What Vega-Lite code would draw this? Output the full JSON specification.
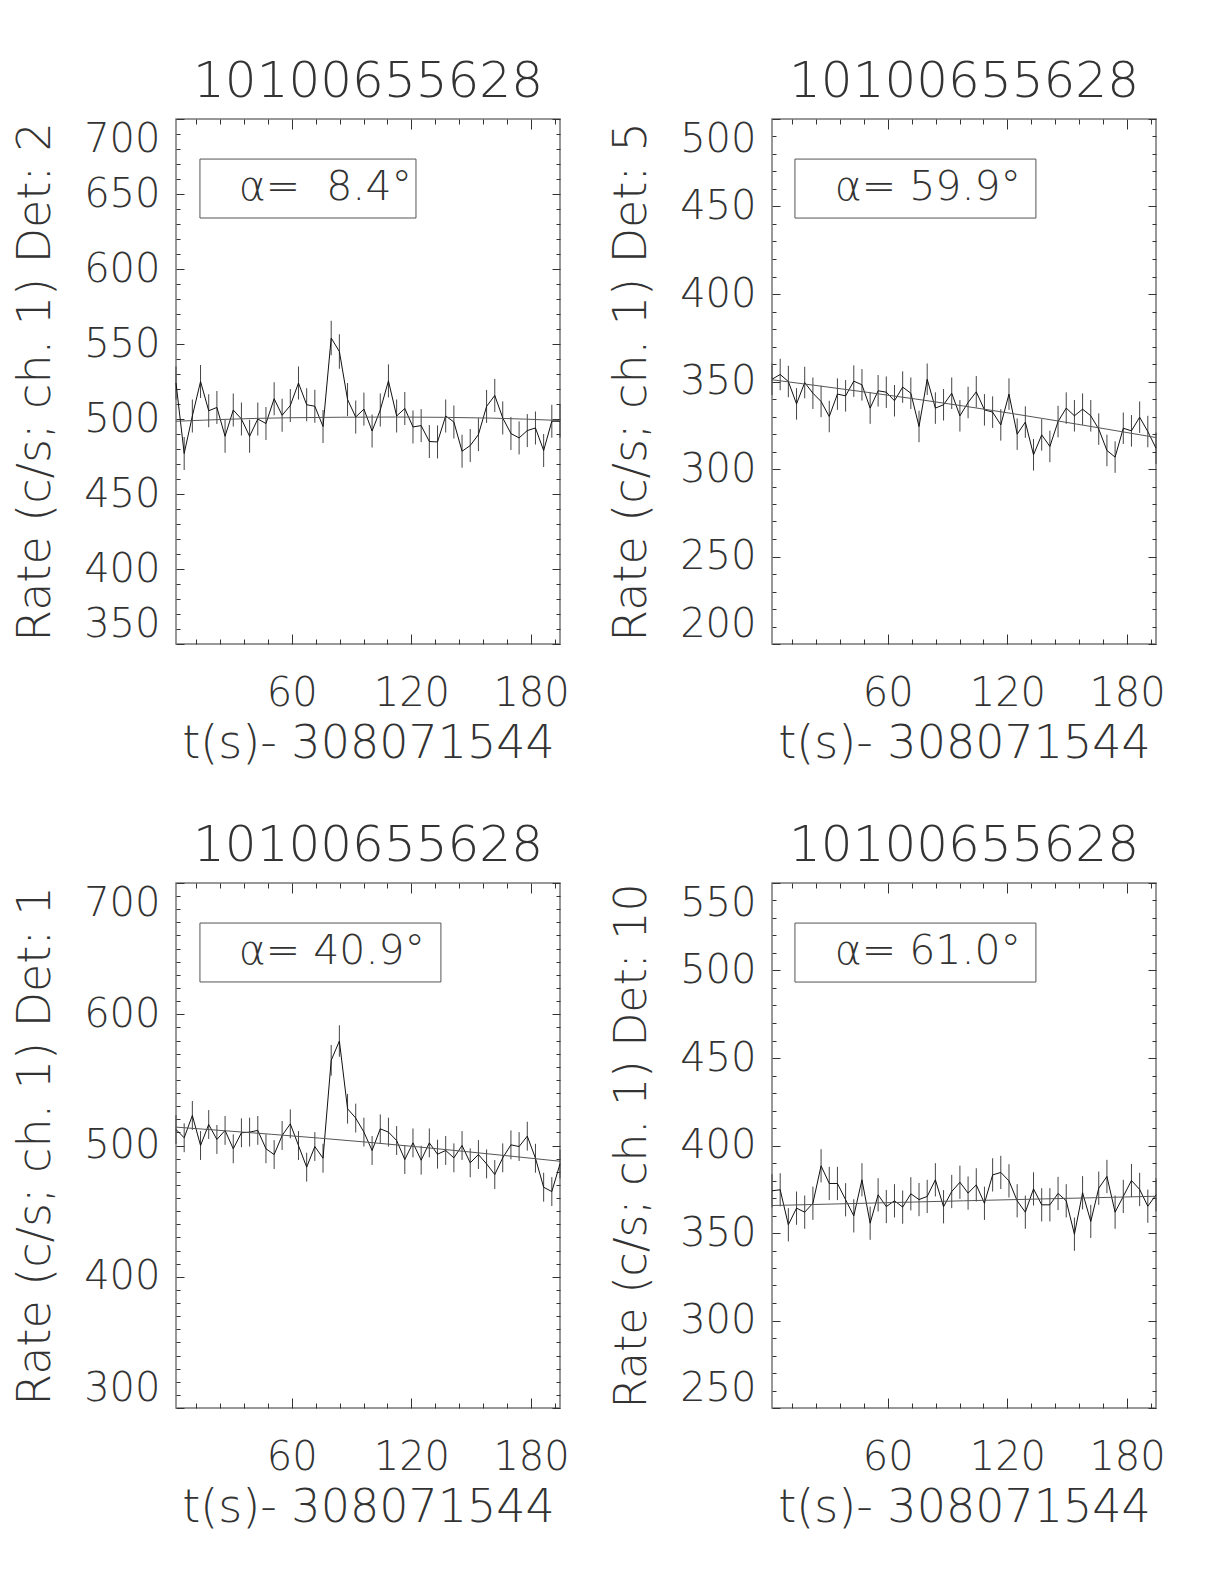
{
"$schema": "https://vega.github.io/schema/vega-lite/v6.json",
"background": "white",
"padding": {"left": 11, "top": 55, "right": 5, "bottom": 5},
"config": {
 "view": {"stroke": "#777", "strokeWidth": 1.5},
 "font": "DejaVu Sans",
 "title": {"font": "DejaVu Sans", "fontSize": 50, "fontWeight": 200, "color": "#333", "offset": 12, "anchor": "middle", "frame": "group"},
 "axis": {"domain": false, "grid": false, "tickColor": "#333", "tickWidth": 1, "labelFont": "DejaVu Sans", "labelFontSize": 40, "labelFontWeight": 200, "labelColor": "#333", "labelOverlap": false, "titleFont": "DejaVu Sans", "titleFontSize": 46, "titleFontWeight": 200, "titleColor": "#333"}
},
"datasets": {
 "p1": [
  {"t":2.0,"r":524,"lo":513,"hi":535},{"t":6.1,"r":477,"lo":466,"hi":488},{"t":10.2,"r":502,"lo":491,"hi":513},{"t":14.3,"r":525,"lo":514,"hi":536},
  {"t":18.4,"r":505.5,"lo":494.5,"hi":516.5},{"t":22.5,"r":507.7,"lo":496.7,"hi":518.7},{"t":26.6,"r":488.5,"lo":477.5,"hi":499.5},{"t":30.7,"r":506,"lo":495,"hi":517},
  {"t":34.8,"r":500,"lo":489,"hi":511},{"t":38.9,"r":488.5,"lo":477.5,"hi":499.5},{"t":43.0,"r":500,"lo":489,"hi":511},{"t":47.1,"r":497,"lo":486,"hi":508},
  {"t":51.2,"r":513.5,"lo":502.5,"hi":524.5},{"t":55.2,"r":502.5,"lo":491.5,"hi":513.5},{"t":59.3,"r":509,"lo":498,"hi":520},{"t":63.4,"r":524,"lo":513,"hi":535},
  {"t":67.5,"r":509.5,"lo":498.5,"hi":520.5},{"t":71.6,"r":508.5,"lo":497.5,"hi":519.5},{"t":75.7,"r":495,"lo":484,"hi":506},{"t":79.8,"r":554,"lo":542.5,"hi":565.5},
  {"t":83.9,"r":545,"lo":533.5,"hi":556.5},{"t":88.0,"r":513,"lo":502,"hi":524},{"t":92.1,"r":501.3,"lo":490.3,"hi":512.3},{"t":96.2,"r":506.6,"lo":495.6,"hi":517.6},
  {"t":100.3,"r":492,"lo":481,"hi":503},{"t":104.4,"r":506,"lo":495,"hi":517},{"t":108.5,"r":525.4,"lo":514.4,"hi":536.4},{"t":112.6,"r":502,"lo":491,"hi":513},
  {"t":116.7,"r":507,"lo":496,"hi":518},{"t":120.8,"r":494.7,"lo":483.7,"hi":505.7},{"t":124.9,"r":495.6,"lo":484.6,"hi":506.6},{"t":129.0,"r":485,"lo":474,"hi":496},
  {"t":133.1,"r":484.7,"lo":473.7,"hi":495.7},{"t":137.2,"r":502,"lo":491,"hi":513},{"t":141.3,"r":498,"lo":487,"hi":509},{"t":145.4,"r":478.5,"lo":467.5,"hi":489.5},
  {"t":149.5,"r":482.3,"lo":471.3,"hi":493.3},{"t":153.6,"r":489.6,"lo":478.6,"hi":500.6},{"t":157.7,"r":508.4,"lo":497.4,"hi":519.4},{"t":161.8,"r":515.7,"lo":504.7,"hi":526.7},
  {"t":165.8,"r":500.7,"lo":489.7,"hi":511.7},{"t":169.9,"r":490.3,"lo":479.3,"hi":501.3},{"t":174.0,"r":487.4,"lo":476.4,"hi":498.4},{"t":178.1,"r":492.3,"lo":481.3,"hi":503.3},
  {"t":182.2,"r":494,"lo":483,"hi":505},{"t":186.3,"r":479,"lo":468,"hi":490},{"t":190.4,"r":498.5,"lo":487.5,"hi":509.5},{"t":194.5,"r":498.5,"lo":487.5,"hi":509.5}
 ],
 "p2": [
  {"t":2.0,"r":351.3,"lo":342.3,"hi":360.3},{"t":6.1,"r":354,"lo":345,"hi":363},{"t":10.2,"r":350,"lo":341,"hi":359},{"t":14.3,"r":337.2,"lo":328.2,"hi":346.2},
  {"t":18.4,"r":349.4,"lo":340.4,"hi":358.4},{"t":22.5,"r":343.3,"lo":334.3,"hi":352.3},{"t":26.6,"r":338.6,"lo":329.6,"hi":347.6},{"t":30.7,"r":330,"lo":321,"hi":339},
  {"t":34.8,"r":342.8,"lo":333.8,"hi":351.8},{"t":38.9,"r":341.8,"lo":332.8,"hi":350.8},{"t":43.0,"r":350.2,"lo":341.2,"hi":359.2},{"t":47.1,"r":348.1,"lo":339.1,"hi":357.1},
  {"t":51.2,"r":334.8,"lo":325.8,"hi":343.8},{"t":55.2,"r":344.7,"lo":335.7,"hi":353.7},{"t":59.3,"r":343.9,"lo":334.9,"hi":352.9},{"t":63.4,"r":339,"lo":330,"hi":348},
  {"t":67.5,"r":346.8,"lo":337.8,"hi":355.8},{"t":71.6,"r":343.3,"lo":334.3,"hi":352.3},{"t":75.7,"r":324.3,"lo":315.3,"hi":333.3},{"t":79.8,"r":351.3,"lo":342.3,"hi":360.3},
  {"t":83.9,"r":334.8,"lo":325.8,"hi":343.8},{"t":88.0,"r":336.7,"lo":327.7,"hi":345.7},{"t":92.1,"r":343.3,"lo":334.3,"hi":352.3},{"t":96.2,"r":330.4,"lo":321.4,"hi":339.4},
  {"t":100.3,"r":338,"lo":329,"hi":347},{"t":104.4,"r":344.1,"lo":335.1,"hi":353.1},{"t":108.5,"r":333.8,"lo":324.8,"hi":342.8},{"t":112.6,"r":332.5,"lo":323.5,"hi":341.5},
  {"t":116.7,"r":325.2,"lo":316.2,"hi":334.2},{"t":120.8,"r":342.8,"lo":333.8,"hi":351.8},{"t":124.9,"r":319.9,"lo":310.9,"hi":328.9},{"t":129.0,"r":326.8,"lo":317.8,"hi":335.8},
  {"t":133.1,"r":308.1,"lo":299.1,"hi":317.1},{"t":137.2,"r":319.5,"lo":310.5,"hi":328.5},{"t":141.3,"r":312.9,"lo":303.9,"hi":321.9},{"t":145.4,"r":327.1,"lo":318.1,"hi":336.1},
  {"t":149.5,"r":334.8,"lo":325.8,"hi":343.8},{"t":153.6,"r":330.4,"lo":321.4,"hi":339.4},{"t":157.7,"r":334.2,"lo":325.2,"hi":343.2},{"t":161.8,"r":330.4,"lo":321.4,"hi":339.4},
  {"t":165.8,"r":322.8,"lo":313.8,"hi":331.8},{"t":169.9,"r":310.6,"lo":301.6,"hi":319.6},{"t":174.0,"r":306.8,"lo":297.8,"hi":315.8},{"t":178.1,"r":323.3,"lo":314.3,"hi":332.3},
  {"t":182.2,"r":321.8,"lo":312.8,"hi":330.8},{"t":186.3,"r":329.6,"lo":320.6,"hi":338.6},{"t":190.4,"r":321.4,"lo":312.4,"hi":330.4},{"t":194.5,"r":311.9,"lo":302.9,"hi":320.9}
 ],
 "p3": [
  {"t":2.0,"r":512.2,"lo":501.2,"hi":523.2},{"t":6.1,"r":505.9,"lo":494.9,"hi":516.9},{"t":10.2,"r":522.9,"lo":511.9,"hi":533.9},{"t":14.3,"r":500,"lo":489,"hi":511},
  {"t":18.4,"r":516,"lo":505,"hi":527},{"t":22.5,"r":504.6,"lo":493.6,"hi":515.6},{"t":26.6,"r":511.5,"lo":500.5,"hi":522.5},{"t":30.7,"r":497.5,"lo":486.5,"hi":508.5},
  {"t":34.8,"r":509.7,"lo":498.7,"hi":520.7},{"t":38.9,"r":510.2,"lo":499.2,"hi":521.2},{"t":43.0,"r":511.5,"lo":500.5,"hi":522.5},{"t":47.1,"r":497.5,"lo":486.5,"hi":508.5},
  {"t":51.2,"r":493.1,"lo":482.1,"hi":504.1},{"t":55.2,"r":507.6,"lo":496.6,"hi":518.6},{"t":59.3,"r":516.5,"lo":505.5,"hi":527.5},{"t":63.4,"r":500,"lo":489,"hi":511},
  {"t":67.5,"r":483.5,"lo":472.5,"hi":494.5},{"t":71.6,"r":499.2,"lo":488.2,"hi":510.2},{"t":75.7,"r":490.3,"lo":479.3,"hi":501.3},{"t":79.8,"r":564.9,"lo":553.2,"hi":576.6},
  {"t":83.9,"r":579.6,"lo":567.6,"hi":591.6},{"t":88.0,"r":528,"lo":516.7,"hi":539.3},{"t":92.1,"r":520.9,"lo":509.9,"hi":531.9},{"t":96.2,"r":510.2,"lo":499.2,"hi":521.2},
  {"t":100.3,"r":496.2,"lo":485.2,"hi":507.2},{"t":104.4,"r":512.7,"lo":501.7,"hi":523.7},{"t":108.5,"r":510.2,"lo":499.2,"hi":521.2},{"t":112.6,"r":503.8,"lo":492.8,"hi":514.8},
  {"t":116.7,"r":489.3,"lo":478.3,"hi":500.3},{"t":120.8,"r":502,"lo":491,"hi":513},{"t":124.9,"r":488.8,"lo":477.8,"hi":499.8},{"t":129.0,"r":502,"lo":491,"hi":513},
  {"t":133.1,"r":493.4,"lo":482.4,"hi":504.4},{"t":137.2,"r":496.2,"lo":485.2,"hi":507.2},{"t":141.3,"r":490.6,"lo":479.6,"hi":501.6},{"t":145.4,"r":500,"lo":489,"hi":511},
  {"t":149.5,"r":486.8,"lo":475.8,"hi":497.8},{"t":153.6,"r":493.1,"lo":482.1,"hi":504.1},{"t":157.7,"r":486,"lo":475,"hi":497},{"t":161.8,"r":477.9,"lo":466.9,"hi":488.9},
  {"t":165.8,"r":490.6,"lo":479.6,"hi":501.6},{"t":169.9,"r":500.5,"lo":489.5,"hi":511.5},{"t":174.0,"r":499.2,"lo":488.2,"hi":510.2},{"t":178.1,"r":507.1,"lo":496.1,"hi":518.1},
  {"t":182.2,"r":490.3,"lo":479.3,"hi":501.3},{"t":186.3,"r":468.2,"lo":457.2,"hi":479.2},{"t":190.4,"r":464.9,"lo":453.9,"hi":475.9},{"t":194.5,"r":486,"lo":475,"hi":497}
 ],
 "p4": [
  {"t":2.0,"r":374.1,"lo":364.6,"hi":383.6},{"t":6.1,"r":374.7,"lo":365.2,"hi":384.2},{"t":10.2,"r":354.7,"lo":345.2,"hi":364.2},{"t":14.3,"r":364.2,"lo":354.7,"hi":373.7},
  {"t":18.4,"r":361.9,"lo":352.4,"hi":371.4},{"t":22.5,"r":367,"lo":357.5,"hi":376.5},{"t":26.6,"r":388.4,"lo":378.9,"hi":397.9},{"t":30.7,"r":378.3,"lo":368.8,"hi":387.8},
  {"t":34.8,"r":378.3,"lo":368.8,"hi":387.8},{"t":38.9,"r":369,"lo":359.5,"hi":378.5},{"t":43.0,"r":359.8,"lo":350.3,"hi":369.3},{"t":47.1,"r":380.4,"lo":370.9,"hi":389.9},
  {"t":51.2,"r":355.6,"lo":346.1,"hi":365.1},{"t":55.2,"r":371.8,"lo":362.3,"hi":381.3},{"t":59.3,"r":365.1,"lo":355.6,"hi":374.6},{"t":63.4,"r":368.4,"lo":358.9,"hi":377.9},
  {"t":67.5,"r":364.8,"lo":355.3,"hi":374.3},{"t":71.6,"r":372.4,"lo":362.9,"hi":381.9},{"t":75.7,"r":369.1,"lo":359.6,"hi":378.6},{"t":79.8,"r":370.9,"lo":361.4,"hi":380.4},
  {"t":83.9,"r":380.4,"lo":370.9,"hi":389.9},{"t":88.0,"r":365,"lo":355.5,"hi":374.5},{"t":92.1,"r":373.7,"lo":364.2,"hi":383.2},{"t":96.2,"r":379,"lo":369.5,"hi":388.5},
  {"t":100.3,"r":372.8,"lo":363.3,"hi":382.3},{"t":104.4,"r":377.5,"lo":368,"hi":387},{"t":108.5,"r":367,"lo":357.5,"hi":376.5},{"t":112.6,"r":383.2,"lo":373.7,"hi":392.7},
  {"t":116.7,"r":384.6,"lo":375.1,"hi":394.1},{"t":120.8,"r":379.8,"lo":370.3,"hi":389.3},{"t":124.9,"r":368.4,"lo":358.9,"hi":377.9},{"t":129.0,"r":361.9,"lo":352.4,"hi":371.4},
  {"t":133.1,"r":375.2,"lo":365.7,"hi":384.7},{"t":137.2,"r":366.1,"lo":356.6,"hi":375.6},{"t":141.3,"r":366.1,"lo":356.6,"hi":375.6},{"t":145.4,"r":372.6,"lo":363.1,"hi":382.1},
  {"t":149.5,"r":368.4,"lo":358.9,"hi":377.9},{"t":153.6,"r":349.3,"lo":339.8,"hi":358.8},{"t":157.7,"r":373,"lo":363.5,"hi":382.5},{"t":161.8,"r":356.6,"lo":347.1,"hi":366.1},
  {"t":165.8,"r":375.6,"lo":366.1,"hi":385.1},{"t":169.9,"r":382.3,"lo":372.8,"hi":391.8},{"t":174.0,"r":361.9,"lo":352.4,"hi":371.4},{"t":178.1,"r":370.9,"lo":361.4,"hi":380.4},
  {"t":182.2,"r":380,"lo":370.5,"hi":389.5},{"t":186.3,"r":374.9,"lo":365.4,"hi":384.4},{"t":190.4,"r":365.3,"lo":355.8,"hi":374.8},{"t":194.5,"r":371.8,"lo":362.3,"hi":381.3}
 ],
 "f1": [{"t":2,"fit":498.5},{"t":57,"fit":500.8},{"t":112,"fit":501.3},{"t":160,"fit":500.6},{"t":194.5,"fit":499}],
 "f2": [{"t":2,"fit":351},{"t":98,"fit":336},{"t":194.5,"fit":318}],
 "f3": [{"t":2,"fit":514},{"t":98,"fit":502.5},{"t":194.5,"fit":488}],
 "f4": [{"t":2,"fit":365.7},{"t":98,"fit":368.4},{"t":194.5,"fit":371}],
 "a1": [{"x1":14,"x2":122.3,"y1":673.3,"y2":634,"tx":33.5,"ty":654,"label":"α=\u00a0\u00a08.4°"}],
 "a2": [{"x1":13.5,"x2":134.3,"y1":477.1,"y2":443.4,"tx":33.5,"ty":460.8,"label":"α= 59.9°"}],
 "a3": [{"x1":14,"x2":134.8,"y1":669.5,"y2":624.6,"tx":33.5,"ty":647.7,"label":"α= 40.9°"}],
 "a4": [{"x1":13.5,"x2":134.3,"y1":527.1,"y2":493.4,"tx":33.5,"ty":510.8,"label":"α= 61.0°"}]
},
"columns": 2,
"spacing": {"row": 52, "column": 37},
"concat": [
 {
  "width": 384, "height": 525,
  "title": {"text": "10100655628"},
  "resolve": {"axis": {"x": "independent", "y": "independent"}},
  "layer": [
   {"data": {"name": "p1"}, "mark": {"type": "rule", "color": "#444", "strokeWidth": 1},
    "encoding": {
     "x": {"field": "t", "type": "quantitative", "scale": {"domain": [2, 194.5], "nice": false, "zero": false},
           "axis": {"orient": "bottom", "values": [60, 120, 180], "tickSize": -10, "labelPadding": 39, "title": "t(s)- 308071544", "titlePadding": 8}},
     "y": {"field": "lo", "type": "quantitative", "scale": {"domain": [350, 700], "nice": false, "zero": false},
           "axis": {"orient": "left", "values": [350, 400, 450, 500, 550, 600, 650, 700], "tickSize": -8, "labelPadding": 24, "labelFlush": true, "title": "Rate (c/s; ch. 1) Det: 2", "titlePadding": 24}},
     "y2": {"field": "hi"}
    }},
   {"data": {"name": "p1"}, "mark": {"type": "line", "color": "#111", "strokeWidth": 1},
    "encoding": {
     "x": {"field": "t", "type": "quantitative", "scale": {"domain": [2, 194.5], "nice": false, "zero": false},
           "axis": {"orient": "bottom", "values": [12, 24, 36, 48, 72, 84, 96, 108, 132, 144, 156, 168, 192], "tickSize": -5, "labels": false, "title": null}},
     "y": {"field": "r", "type": "quantitative", "scale": {"domain": [350, 700], "nice": false, "zero": false},
           "axis": {"orient": "left", "values": [360,370,380,390,410,420,430,440,460,470,480,490,510,520,530,540,560,570,580,590,610,620,630,640,660,670,680,690], "tickSize": -4, "labels": false, "title": null}}
    }},
   {"data": {"name": "f1"}, "mark": {"type": "line", "color": "#555", "strokeWidth": 1, "interpolate": "monotone"},
    "encoding": {
     "x": {"field": "t", "type": "quantitative", "scale": {"domain": [2, 194.5], "nice": false, "zero": false},
           "axis": {"orient": "top", "values": [60, 120, 180], "tickSize": -10, "labels": false, "title": null}},
     "y": {"field": "fit", "type": "quantitative", "scale": {"domain": [350, 700], "nice": false, "zero": false},
           "axis": {"orient": "right", "values": [350, 400, 450, 500, 550, 600, 650, 700], "tickSize": -8, "labels": false, "title": null}}
    }},
   {"data": {"name": "a1"}, "mark": {"type": "rect", "fillOpacity": 0, "stroke": "#555", "strokeWidth": 1},
    "encoding": {
     "x": {"field": "x1", "type": "quantitative", "scale": {"domain": [2, 194.5], "nice": false, "zero": false},
           "axis": {"orient": "top", "values": [12, 24, 36, 48, 72, 84, 96, 108, 132, 144, 156, 168, 192], "tickSize": -5, "labels": false, "title": null}},
     "x2": {"field": "x2"},
     "y": {"field": "y1", "type": "quantitative", "scale": {"domain": [350, 700], "nice": false, "zero": false},
           "axis": {"orient": "right", "values": [360,370,380,390,410,420,430,440,460,470,480,490,510,520,530,540,560,570,580,590,610,620,630,640,660,670,680,690], "tickSize": -4, "labels": false, "title": null}},
     "y2": {"field": "y2"}
    }},
   {"data": {"name": "a1"}, "mark": {"type": "text", "align": "left", "baseline": "middle", "font": "DejaVu Sans", "fontSize": 41, "fontWeight": 200, "color": "#333"},
    "encoding": {
     "x": {"field": "tx", "type": "quantitative", "axis": null},
     "y": {"field": "ty", "type": "quantitative", "axis": null},
     "text": {"field": "label"}
    }}
  ]
 },
 {
  "width": 384, "height": 525,
  "title": {"text": "10100655628"},
  "resolve": {"axis": {"x": "independent", "y": "independent"}},
  "layer": [
   {"data": {"name": "p2"}, "mark": {"type": "rule", "color": "#444", "strokeWidth": 1},
    "encoding": {
     "x": {"field": "t", "type": "quantitative", "scale": {"domain": [2, 194.5], "nice": false, "zero": false},
           "axis": {"orient": "bottom", "values": [60, 120, 180], "tickSize": -10, "labelPadding": 39, "title": "t(s)- 308071544", "titlePadding": 8}},
     "y": {"field": "lo", "type": "quantitative", "scale": {"domain": [200, 500], "nice": false, "zero": false},
           "axis": {"orient": "left", "values": [200, 250, 300, 350, 400, 450, 500], "tickSize": -8, "labelPadding": 24, "labelFlush": true, "title": "Rate (c/s; ch. 1) Det: 5", "titlePadding": 24}},
     "y2": {"field": "hi"}
    }},
   {"data": {"name": "p2"}, "mark": {"type": "line", "color": "#111", "strokeWidth": 1},
    "encoding": {
     "x": {"field": "t", "type": "quantitative", "scale": {"domain": [2, 194.5], "nice": false, "zero": false},
           "axis": {"orient": "bottom", "values": [12, 24, 36, 48, 72, 84, 96, 108, 132, 144, 156, 168, 192], "tickSize": -5, "labels": false, "title": null}},
     "y": {"field": "r", "type": "quantitative", "scale": {"domain": [200, 500], "nice": false, "zero": false},
           "axis": {"orient": "left", "values": [210,220,230,240,260,270,280,290,310,320,330,340,360,370,380,390,410,420,430,440,460,470,480,490], "tickSize": -4, "labels": false, "title": null}}
    }},
   {"data": {"name": "f2"}, "mark": {"type": "line", "color": "#555", "strokeWidth": 1, "interpolate": "monotone"},
    "encoding": {
     "x": {"field": "t", "type": "quantitative", "scale": {"domain": [2, 194.5], "nice": false, "zero": false},
           "axis": {"orient": "top", "values": [60, 120, 180], "tickSize": -10, "labels": false, "title": null}},
     "y": {"field": "fit", "type": "quantitative", "scale": {"domain": [200, 500], "nice": false, "zero": false},
           "axis": {"orient": "right", "values": [200, 250, 300, 350, 400, 450, 500], "tickSize": -8, "labels": false, "title": null}}
    }},
   {"data": {"name": "a2"}, "mark": {"type": "rect", "fillOpacity": 0, "stroke": "#555", "strokeWidth": 1},
    "encoding": {
     "x": {"field": "x1", "type": "quantitative", "scale": {"domain": [2, 194.5], "nice": false, "zero": false},
           "axis": {"orient": "top", "values": [12, 24, 36, 48, 72, 84, 96, 108, 132, 144, 156, 168, 192], "tickSize": -5, "labels": false, "title": null}},
     "x2": {"field": "x2"},
     "y": {"field": "y1", "type": "quantitative", "scale": {"domain": [200, 500], "nice": false, "zero": false},
           "axis": {"orient": "right", "values": [210,220,230,240,260,270,280,290,310,320,330,340,360,370,380,390,410,420,430,440,460,470,480,490], "tickSize": -4, "labels": false, "title": null}},
     "y2": {"field": "y2"}
    }},
   {"data": {"name": "a2"}, "mark": {"type": "text", "align": "left", "baseline": "middle", "font": "DejaVu Sans", "fontSize": 41, "fontWeight": 200, "color": "#333"},
    "encoding": {
     "x": {"field": "tx", "type": "quantitative", "axis": null},
     "y": {"field": "ty", "type": "quantitative", "axis": null},
     "text": {"field": "label"}
    }}
  ]
 },
 {
  "width": 384, "height": 525,
  "title": {"text": "10100655628"},
  "resolve": {"axis": {"x": "independent", "y": "independent"}},
  "layer": [
   {"data": {"name": "p3"}, "mark": {"type": "rule", "color": "#444", "strokeWidth": 1},
    "encoding": {
     "x": {"field": "t", "type": "quantitative", "scale": {"domain": [2, 194.5], "nice": false, "zero": false},
           "axis": {"orient": "bottom", "values": [60, 120, 180], "tickSize": -10, "labelPadding": 39, "title": "t(s)- 308071544", "titlePadding": 8}},
     "y": {"field": "lo", "type": "quantitative", "scale": {"domain": [300, 700], "nice": false, "zero": false},
           "axis": {"orient": "left", "values": [300, 400, 500, 600, 700], "tickSize": -8, "labelPadding": 24, "labelFlush": true, "title": "Rate (c/s; ch. 1) Det: 1", "titlePadding": 24}},
     "y2": {"field": "hi"}
    }},
   {"data": {"name": "p3"}, "mark": {"type": "line", "color": "#111", "strokeWidth": 1},
    "encoding": {
     "x": {"field": "t", "type": "quantitative", "scale": {"domain": [2, 194.5], "nice": false, "zero": false},
           "axis": {"orient": "bottom", "values": [12, 24, 36, 48, 72, 84, 96, 108, 132, 144, 156, 168, 192], "tickSize": -5, "labels": false, "title": null}},
     "y": {"field": "r", "type": "quantitative", "scale": {"domain": [300, 700], "nice": false, "zero": false},
           "axis": {"orient": "left", "values": [310,320,330,340,350,360,370,380,390,410,420,430,440,450,460,470,480,490,510,520,530,540,550,560,570,580,590,610,620,630,640,650,660,670,680,690], "tickSize": -4, "labels": false, "title": null}}
    }},
   {"data": {"name": "f3"}, "mark": {"type": "line", "color": "#555", "strokeWidth": 1, "interpolate": "monotone"},
    "encoding": {
     "x": {"field": "t", "type": "quantitative", "scale": {"domain": [2, 194.5], "nice": false, "zero": false},
           "axis": {"orient": "top", "values": [60, 120, 180], "tickSize": -10, "labels": false, "title": null}},
     "y": {"field": "fit", "type": "quantitative", "scale": {"domain": [300, 700], "nice": false, "zero": false},
           "axis": {"orient": "right", "values": [300, 400, 500, 600, 700], "tickSize": -8, "labels": false, "title": null}}
    }},
   {"data": {"name": "a3"}, "mark": {"type": "rect", "fillOpacity": 0, "stroke": "#555", "strokeWidth": 1},
    "encoding": {
     "x": {"field": "x1", "type": "quantitative", "scale": {"domain": [2, 194.5], "nice": false, "zero": false},
           "axis": {"orient": "top", "values": [12, 24, 36, 48, 72, 84, 96, 108, 132, 144, 156, 168, 192], "tickSize": -5, "labels": false, "title": null}},
     "x2": {"field": "x2"},
     "y": {"field": "y1", "type": "quantitative", "scale": {"domain": [300, 700], "nice": false, "zero": false},
           "axis": {"orient": "right", "values": [310,320,330,340,350,360,370,380,390,410,420,430,440,450,460,470,480,490,510,520,530,540,550,560,570,580,590,610,620,630,640,650,660,670,680,690], "tickSize": -4, "labels": false, "title": null}},
     "y2": {"field": "y2"}
    }},
   {"data": {"name": "a3"}, "mark": {"type": "text", "align": "left", "baseline": "middle", "font": "DejaVu Sans", "fontSize": 41, "fontWeight": 200, "color": "#333"},
    "encoding": {
     "x": {"field": "tx", "type": "quantitative", "axis": null},
     "y": {"field": "ty", "type": "quantitative", "axis": null},
     "text": {"field": "label"}
    }}
  ]
 },
 {
  "width": 384, "height": 525,
  "title": {"text": "10100655628"},
  "resolve": {"axis": {"x": "independent", "y": "independent"}},
  "layer": [
   {"data": {"name": "p4"}, "mark": {"type": "rule", "color": "#444", "strokeWidth": 1},
    "encoding": {
     "x": {"field": "t", "type": "quantitative", "scale": {"domain": [2, 194.5], "nice": false, "zero": false},
           "axis": {"orient": "bottom", "values": [60, 120, 180], "tickSize": -10, "labelPadding": 39, "title": "t(s)- 308071544", "titlePadding": 8}},
     "y": {"field": "lo", "type": "quantitative", "scale": {"domain": [250, 550], "nice": false, "zero": false},
           "axis": {"orient": "left", "values": [250, 300, 350, 400, 450, 500, 550], "tickSize": -8, "labelPadding": 24, "labelFlush": true, "title": "Rate (c/s; ch. 1) Det: 10", "titlePadding": 25, "titleFontSize": 44}},
     "y2": {"field": "hi"}
    }},
   {"data": {"name": "p4"}, "mark": {"type": "line", "color": "#111", "strokeWidth": 1},
    "encoding": {
     "x": {"field": "t", "type": "quantitative", "scale": {"domain": [2, 194.5], "nice": false, "zero": false},
           "axis": {"orient": "bottom", "values": [12, 24, 36, 48, 72, 84, 96, 108, 132, 144, 156, 168, 192], "tickSize": -5, "labels": false, "title": null}},
     "y": {"field": "r", "type": "quantitative", "scale": {"domain": [250, 550], "nice": false, "zero": false},
           "axis": {"orient": "left", "values": [260,270,280,290,310,320,330,340,360,370,380,390,410,420,430,440,460,470,480,490,510,520,530,540], "tickSize": -4, "labels": false, "title": null}}
    }},
   {"data": {"name": "f4"}, "mark": {"type": "line", "color": "#555", "strokeWidth": 1, "interpolate": "monotone"},
    "encoding": {
     "x": {"field": "t", "type": "quantitative", "scale": {"domain": [2, 194.5], "nice": false, "zero": false},
           "axis": {"orient": "top", "values": [60, 120, 180], "tickSize": -10, "labels": false, "title": null}},
     "y": {"field": "fit", "type": "quantitative", "scale": {"domain": [250, 550], "nice": false, "zero": false},
           "axis": {"orient": "right", "values": [250, 300, 350, 400, 450, 500, 550], "tickSize": -8, "labels": false, "title": null}}
    }},
   {"data": {"name": "a4"}, "mark": {"type": "rect", "fillOpacity": 0, "stroke": "#555", "strokeWidth": 1},
    "encoding": {
     "x": {"field": "x1", "type": "quantitative", "scale": {"domain": [2, 194.5], "nice": false, "zero": false},
           "axis": {"orient": "top", "values": [12, 24, 36, 48, 72, 84, 96, 108, 132, 144, 156, 168, 192], "tickSize": -5, "labels": false, "title": null}},
     "x2": {"field": "x2"},
     "y": {"field": "y1", "type": "quantitative", "scale": {"domain": [250, 550], "nice": false, "zero": false},
           "axis": {"orient": "right", "values": [260,270,280,290,310,320,330,340,360,370,380,390,410,420,430,440,460,470,480,490,510,520,530,540], "tickSize": -4, "labels": false, "title": null}},
     "y2": {"field": "y2"}
    }},
   {"data": {"name": "a4"}, "mark": {"type": "text", "align": "left", "baseline": "middle", "font": "DejaVu Sans", "fontSize": 41, "fontWeight": 200, "color": "#333"},
    "encoding": {
     "x": {"field": "tx", "type": "quantitative", "axis": null},
     "y": {"field": "ty", "type": "quantitative", "axis": null},
     "text": {"field": "label"}
    }}
  ]
 }
]
}
